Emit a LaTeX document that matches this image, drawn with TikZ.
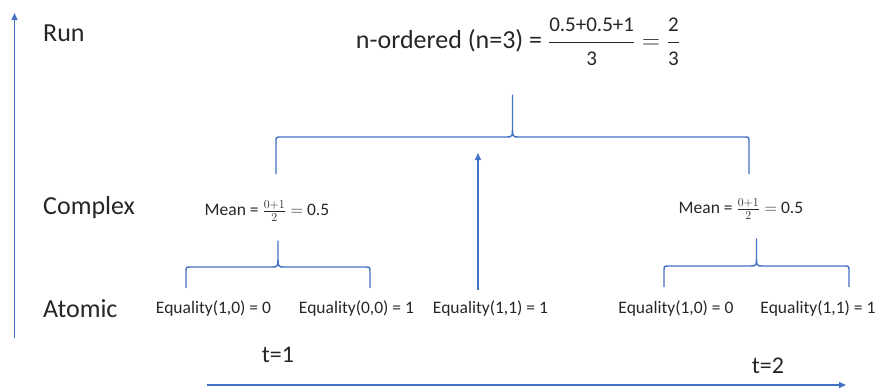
\documentclass[tikz,border=0pt]{standalone}
\usepackage{amsmath}
\usepackage{fontspec}
\setmainfont{Carlito}
\usetikzlibrary{arrows.meta}
\definecolor{lineblue}{HTML}{4472C4}
\definecolor{txtgray}{HTML}{262626}
\newcommand{\curlybrace}[5]{\pgfmathsetmacro{\xm}{(#1+#2)/2}
  \draw[brace] (#1,#4) -- (#1,#3+5) .. controls (#1,#3) .. (#1+5,#3) -- (\xm-6,#3)
    .. controls (\xm,#3) .. (\xm,#3-12) -- (\xm,#5) -- (\xm,#3-12)
    .. controls (\xm,#3) .. (\xm+6,#3) -- (#2-5,#3) .. controls (#2,#3) .. (#2,#3+5) -- (#2,#4);}
\tikzset{
  brace/.style={lineblue,line width=1.4pt,line join=round},
  axis/.style={lineblue,line width=1.4pt,-{Triangle[length=7pt,width=6pt]}},
  lvl/.style={txtgray,inner sep=0pt,anchor=west,font=\fontsize{26}{30}\selectfont},
  eqlbl/.style={txtgray,inner sep=0pt,font=\fontsize{17.5}{21}\selectfont},
  tlbl/.style={txtgray,inner sep=0pt,font=\fontsize{24}{28}\selectfont}
}
\begin{document}
\begin{tikzpicture}[x=1pt,y=-1pt]
\useasboundingbox (0,0) rectangle (879,391);
% level axis
\coordinate (ybot) at (14.5,338); \coordinate (ytop) at (14.5,13);
\draw[axis] (ybot) -- (ytop);
\node[lvl] (runlbl) at (43,33) {Run};
\node[lvl] (cpxlbl) at (43,208) {Complex};
\node[lvl] (atmlbl) at (43,309) {Atomic};
% results
\node[txtgray,inner sep=0pt,font=\fontsize{26}{30}\selectfont] (title) at (518,42)
  {n-ordered (n=3) = $\dfrac{\text{\fontsize{21}{24}\selectfont 0.5+0.5+1}}{\text{\fontsize{21}{24}\selectfont 3}}
   = \dfrac{\text{\fontsize{21}{24}\selectfont 2}}{\text{\fontsize{21}{24}\selectfont 3}}$};
\node[eqlbl] (meanl) at (267,211) {Mean = $\frac{0+1}{2} =$ 0.5};
\node[eqlbl] (meanr) at (741,209) {Mean = $\frac{0+1}{2} =$ 0.5};
% atomic equalities
\node[eqlbl] (eqa) at (213.5,309) {Equality(1,0) = 0};
\node[eqlbl] (eqb) at (356.5,309) {Equality(0,0) = 1};
\node[eqlbl] (eqc) at (490.5,309) {Equality(1,1) = 1};
\node[eqlbl] (eqd) at (676,309) {Equality(1,0) = 0};
\node[eqlbl] (eqe) at (818,309) {Equality(1,1) = 1};
% braces
\curlybrace{186}{370}{267}{288}{241}
\curlybrace{664}{849}{266}{287}{239}
\curlybrace{276}{749}{137}{174}{95}
\coordinate (midbot) at (478,290); \coordinate (midtip) at (478,153);
\draw[axis] (midbot) -- (midtip);
% time axis
\coordinate (xbeg) at (207,385); \coordinate (xend) at (846,385);
\draw[axis] (xbeg) -- (xend);
\node[tlbl] (tone) at (278,355) {t=1};
\node[tlbl] (ttwo) at (768,366) {t=2};
\end{tikzpicture}
\end{document}
